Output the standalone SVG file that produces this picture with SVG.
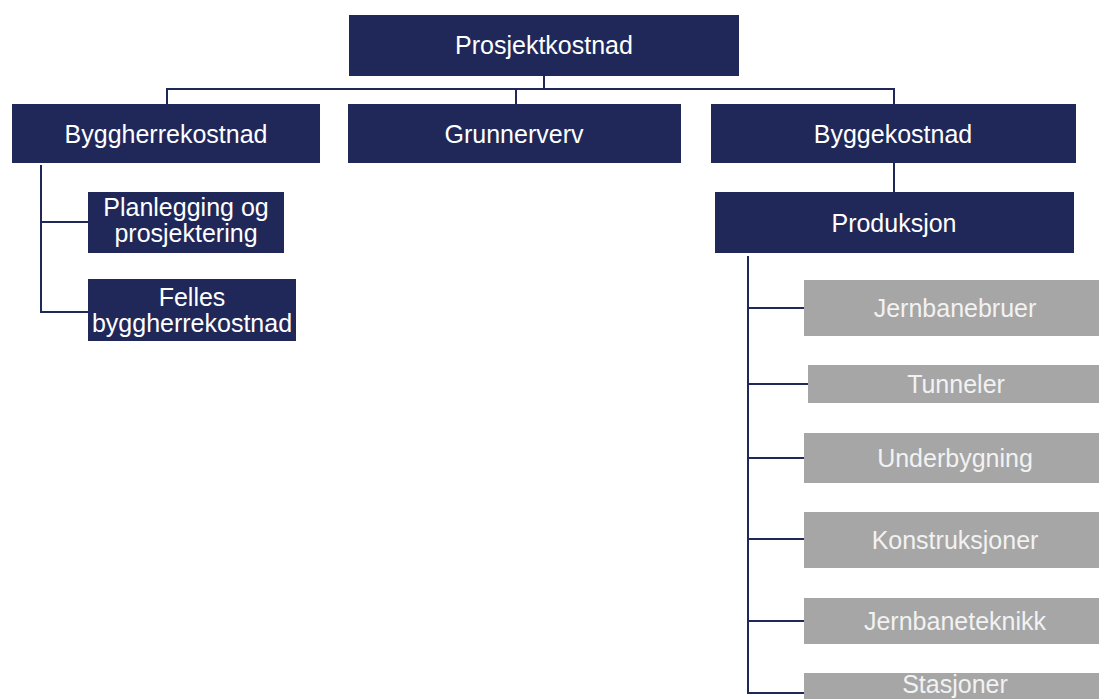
<svg xmlns="http://www.w3.org/2000/svg" width="1099" height="699" viewBox="0 0 1099 699">
<style>
.n{fill:#1F2859}
.g{fill:#A6A6A6}
.t{font-family:"Liberation Sans",Arial,sans-serif;font-size:25px;text-anchor:middle;fill:#FFFFFF}
.tg{font-family:"Liberation Sans",Arial,sans-serif;font-size:25px;text-anchor:middle;fill:#F2F2F2}
.c{fill:none;stroke:#1F2859;stroke-width:2}
</style>
<rect width="1099" height="699" fill="#FFFFFF"/>
<g id="connectors">
<path class="c" d="M544 76V89M167 104V89H894V104M516 89V104"/>
<path class="c" d="M894 163V192"/>
<path class="c" d="M41 165V312H88M41 222H88"/>
<path class="c" d="M748 256V693H804M748 308H804M748 384H808M748 458H804M748 539H804M748 621H804"/>
</g>
<g id="prosjektkostnad"><rect class="n" x="349" y="15" width="390" height="61"/><text class="t" x="544" y="54">Prosjektkostnad</text></g>
<g id="byggherrekostnad"><rect class="n" x="12" y="104" width="308" height="59"/><text class="t" x="166" y="143">Byggherrekostnad</text></g>
<g id="grunnerverv"><rect class="n" x="348" y="104" width="333" height="59"/><text class="t" x="514" y="143">Grunnerverv</text></g>
<g id="byggekostnad"><rect class="n" x="711" y="104" width="365" height="59"/><text class="t" x="893" y="143">Byggekostnad</text></g>
<g id="produksjon"><rect class="n" x="715" y="192" width="359" height="61"/><text class="t" x="894" y="232">Produksjon</text></g>
<g id="planlegging"><rect class="n" x="88" y="192" width="196" height="61"/><text class="t" x="186" y="216">Planlegging og</text><text class="t" x="186" y="242">prosjektering</text></g>
<g id="felles"><rect class="n" x="88" y="279" width="208" height="62"/><text class="t" x="192" y="306">Felles</text><text class="t" x="192" y="332">byggherrekostnad</text></g>
<g id="jernbanebruer"><rect class="g" x="804" y="280" width="302" height="56"/><text class="tg" x="955" y="317">Jernbanebruer</text></g>
<g id="tunneler"><rect class="g" x="808" y="365" width="298" height="38"/><text class="tg" x="956" y="393">Tunneler</text></g>
<g id="underbygning"><rect class="g" x="804" y="433" width="302" height="50"/><text class="tg" x="955" y="467">Underbygning</text></g>
<g id="konstruksjoner"><rect class="g" x="804" y="512" width="302" height="56"/><text class="tg" x="955" y="549">Konstruksjoner</text></g>
<g id="jernbaneteknikk"><rect class="g" x="804" y="598" width="302" height="46"/><text class="tg" x="955" y="630">Jernbaneteknikk</text></g>
<g id="stasjoner"><rect class="g" x="804" y="673" width="302" height="56"/><text class="tg" x="955" y="693">Stasjoner</text></g>
</svg>
